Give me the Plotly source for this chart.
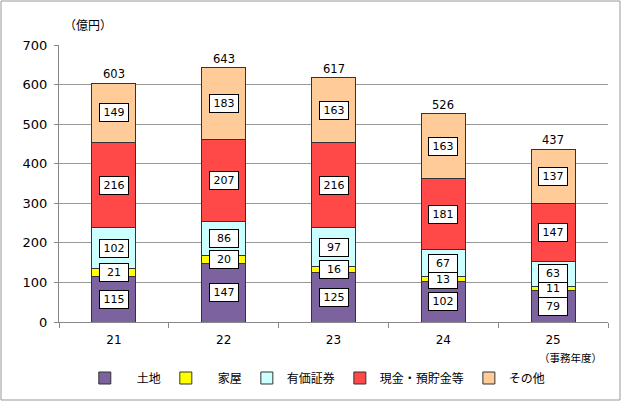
import plotly.graph_objects as go

years = ["21", "22", "23", "24", "25"]
land = [115, 147, 125, 102, 79]
house = [21, 20, 16, 13, 11]
securities = [102, 86, 97, 67, 63]
cash = [216, 207, 216, 181, 147]
other = [149, 183, 163, 163, 137]

series = [
    ("土地", land, "#7D62A0"),
    ("家屋", house, "#FFFF00"),
    ("有価証券", securities, "#CCFFFF"),
    ("現金・預貯金等", cash, "#FF4848"),
    ("その他", other, "#FFCC99"),
]
legend_names = ["　土地", "　家屋", "有価証券", "現金・預貯金等", "その他"]

font_num = "DejaVu Sans"
font_jp = "Noto Sans CJK JP"

W, H = 624, 404
L, R, T, B = 59, 16, 45, 82
PW, PH = W - L - R, H - T - B

fig = go.Figure()
for (name, vals, color), lname in zip(series, legend_names):
    fig.add_trace(go.Bar(
        x=years, y=vals, name=lname,
        marker=dict(color=color, line=dict(color="#333333", width=1)),
        width=0.4, hoverinfo="skip",
    ))

annotations = []
base = [0] * len(years)
for name, vals, color in series:
    for i, v in enumerate(vals):
        annotations.append(dict(
            x=i, y=base[i] + v / 2, text=str(v), showarrow=False,
            font=dict(family=font_num, size=11, color="black"),
            bgcolor="white", bordercolor="black", borderwidth=1, borderpad=2,
            width=24, xref="x", yref="y",
        ))
        base[i] += v
for i, t in enumerate(base):
    annotations.append(dict(
        x=i, y=t, text=str(t), showarrow=False, yanchor="bottom", yshift=0,
        font=dict(family=font_num, size=11.5, color="black"), xref="x", yref="y",
    ))
annotations.append(dict(
    xref="paper", yref="paper", x=(62 - L) / PW, y=(H - B - 24) / PH,
    xanchor="left", yanchor="middle",
    text="（億円）", showarrow=False,
    font=dict(family=font_jp, size=12, color="black"),
))
annotations.append(dict(
    xref="paper", yref="paper", x=(570 - L) / PW, y=(H - B - 357) / PH,
    text="（事務年度）", showarrow=False,
    font=dict(family=font_jp, size=10.5, color="black"),
    xanchor="center", yanchor="middle",
))

fig.update_layout(
    width=W, height=H,
    margin=dict(l=L, r=R, t=T, b=B, autoexpand=False),
    paper_bgcolor="white", plot_bgcolor="white",
    barmode="stack", bargap=0.6,
    showlegend=True,
    legend=dict(orientation="h", x=0.047, y=(H - B - 378) / PH,
                xanchor="left", yanchor="middle",
                font=dict(family=font_jp, size=12, color="black"),
                traceorder="normal", itemwidth=30),
    annotations=annotations,
    xaxis=dict(type="category", range=[-0.5, 4.5], showline=True, linecolor="#888888",
               linewidth=1, ticks="outside", tickson="boundaries", ticklen=5,
               tickcolor="#888888", ticklabelstandoff=7,
               tickfont=dict(family=font_num, size=12, color="black")),
    yaxis=dict(range=[0, 700], dtick=100, showline=True, linecolor="#888888",
               linewidth=1, showgrid=True, gridcolor="#999999", gridwidth=1,
               ticks="outside", ticklen=4, tickcolor="#888888", ticklabelstandoff=4,
               tickfont=dict(family=font_num, size=13, color="black")),
    shapes=[dict(type="rect", xref="paper", yref="paper",
                 x0=(1 - L) / PW, x1=(620 - L) / PW,
                 y0=(H - B - 400) / PH, y1=(H - B - 1) / PH,
                 line=dict(color="#999999", width=1), fillcolor="rgba(0,0,0,0)")],
)

fig.write_html("out.html", config={"displayModeBar": False},
               post_script="document.body.style.margin='0';")
